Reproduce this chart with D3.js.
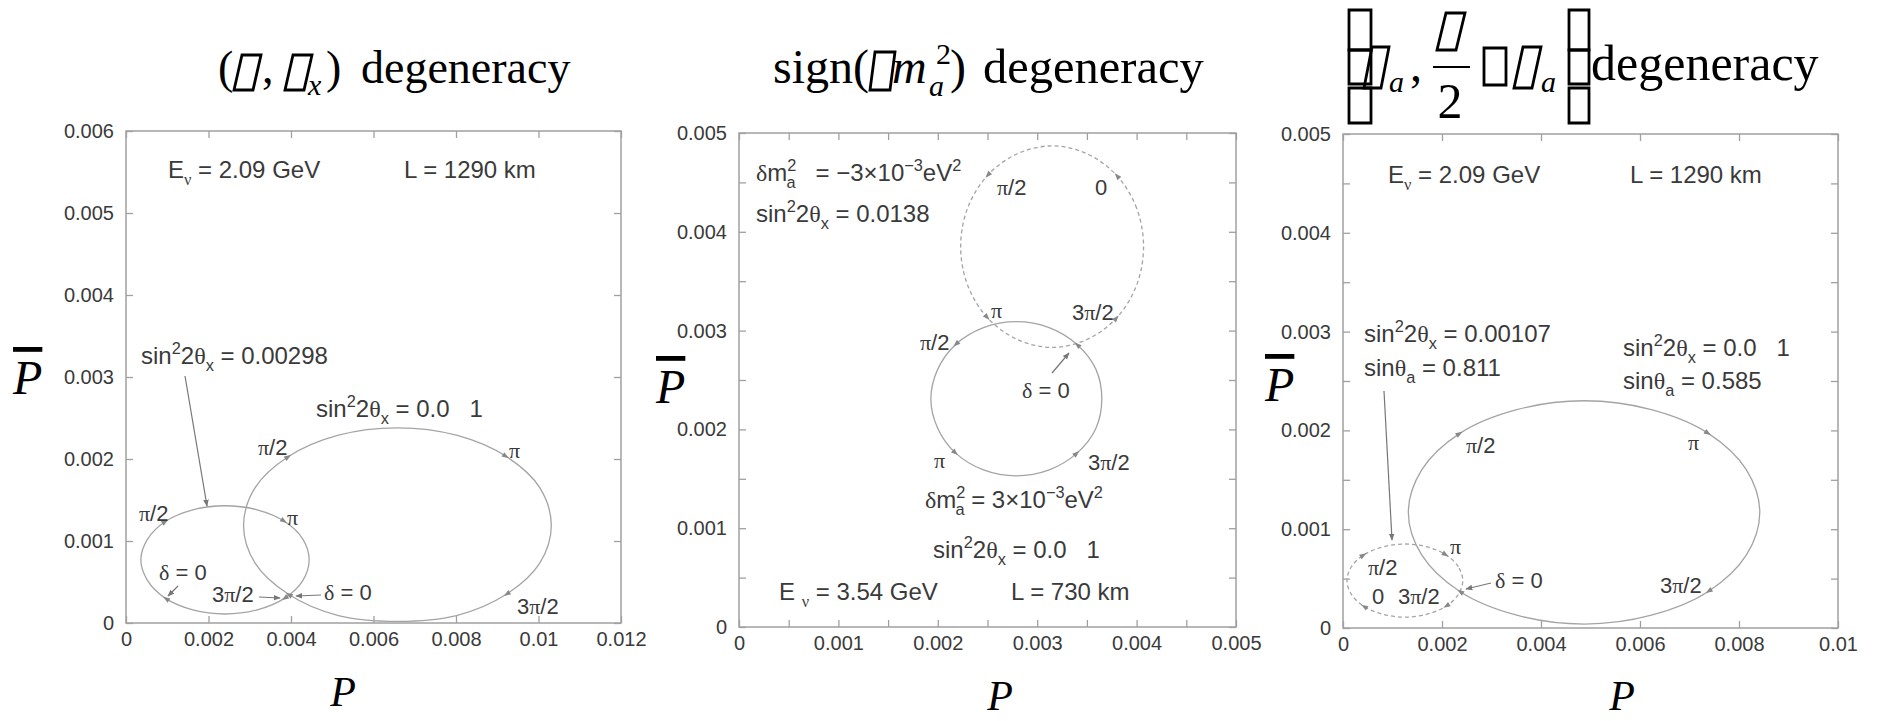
<!DOCTYPE html>
<html><head><meta charset="utf-8">
<script src="https://cdn.jsdelivr.net/npm/d3@7"></script>
<style>body{margin:0;background:#fff} svg{display:block}</style>
</head><body>
<svg id="c" width="1877" height="721"></svg>
<script>
// ---------------- data ----------------
const p1XTicks=[0,0.002,0.004,0.006,0.008,0.01,0.012];
const p1XLabels=["0","0.002","0.004","0.006","0.008","0.01","0.012"];
const p1YTicks=[0,0.001,0.002,0.003,0.004,0.005,0.006];
const p1YLabels=["0","0.001","0.002","0.003","0.004","0.005","0.006"];

const p2XTicks=[0,0.0005,0.001,0.0015,0.002,0.0025,0.003,0.0035,0.004,0.0045,0.005];
const p2XLabels=["0","","0.001","","0.002","","0.003","","0.004","","0.005"];
const p2YTicks=[0,0.0005,0.001,0.0015,0.002,0.0025,0.003,0.0035,0.004,0.0045,0.005];
const p2YLabels=["0","","0.001","","0.002","","0.003","","0.004","","0.005"];

const p3XTicks=[0,0.002,0.004,0.006,0.008,0.01];
const p3XLabels=["0","0.002","0.004","0.006","0.008","0.01"];
const p3YTicks=[0,0.0005,0.001,0.0015,0.002,0.0025,0.003,0.0035,0.004,0.0045,0.005];
const p3YLabels=["0","","0.001","","0.002","","0.003","","0.004","","0.005"];

// ellipse outlines (P, Pbar)
const p1SmallP   =[0.00444,0.00429,0.00384,0.00318,0.00240,0.00162,0.00096,0.00052,0.00036,0.00052,0.00096,0.00162,0.00240,0.00318,0.00384,0.00429];
const p1SmallPbar=[0.00077,0.00102,0.00124,0.00138,0.00143,0.00138,0.00124,0.00102,0.00077,0.00052,0.00030,0.00016,0.00011,0.00016,0.00030,0.00052];
const p1BigP     =[0.01031,0.01003,0.00922,0.00801,0.00658,0.00515,0.00394,0.00313,0.00285,0.00313,0.00394,0.00515,0.00658,0.00801,0.00922,0.01003];
const p1BigPbar  =[0.00119,0.00165,0.00203,0.00229,0.00238,0.00229,0.00203,0.00165,0.00119,0.00073,0.00035,0.00009,0.00002,0.00009,0.00035,0.00073];

const p2NegP     =[0.00407,0.00400,0.00380,0.00350,0.00315,0.00280,0.00250,0.00230,0.00223,0.00230,0.00250,0.00280,0.00315,0.00350,0.00380,0.00400];
const p2NegPbar  =[0.00385,0.00424,0.00457,0.00479,0.00487,0.00479,0.00457,0.00424,0.00385,0.00346,0.00313,0.00291,0.00283,0.00291,0.00313,0.00346];
const p2PosP     =[0.00365,0.00359,0.00340,0.00312,0.00279,0.00246,0.00218,0.00200,0.00193,0.00200,0.00218,0.00246,0.00279,0.00312,0.00340,0.00359];
const p2PosPbar  =[0.00231,0.00261,0.00286,0.00303,0.00309,0.00303,0.00286,0.00261,0.00231,0.00201,0.00176,0.00159,0.00153,0.00159,0.00176,0.00201];

const p3BigP     =[0.00842,0.00815,0.00738,0.00623,0.00487,0.00351,0.00236,0.00159,0.00132,0.00159,0.00236,0.00351,0.00487,0.00623,0.00738,0.00815];
const p3BigPbar  =[0.00117,0.00160,0.00197,0.00221,0.00230,0.00221,0.00197,0.00160,0.00117,0.00074,0.00037,0.00013,0.00004,0.00013,0.00037,0.00074];
const p3SmallP   =[0.00242,0.00233,0.00208,0.00170,0.00125,0.00080,0.00042,0.00017,0.00008,0.00017,0.00042,0.00080,0.00125,0.00170,0.00208,0.00233];
const p3SmallPbar=[0.00048,0.00062,0.00074,0.00082,0.00085,0.00082,0.00074,0.00062,0.00048,0.00034,0.00022,0.00014,0.00011,0.00014,0.00022,0.00034];

// delta = 0, pi/2, pi, 3pi/2 points on each curve
const p1SmallMarkP=[0.00096,0.00096,0.00384,0.00384], p1SmallMarkPbar=[0.00030,0.00124,0.00124,0.00030];
const p1BigMarkP  =[0.00394,0.00394,0.00922,0.00922], p1BigMarkPbar  =[0.00035,0.00203,0.00203,0.00035];
const p2NegMarkP  =[0.00380,0.00250,0.00250,0.00380], p2NegMarkPbar  =[0.00457,0.00457,0.00313,0.00313];
const p2PosMarkP  =[0.00340,0.00218,0.00218,0.00340], p2PosMarkPbar  =[0.00286,0.00286,0.00176,0.00176];
const p3BigMarkP  =[0.00236,0.00236,0.00738,0.00738], p3BigMarkPbar  =[0.00037,0.00197,0.00197,0.00037];
const p3SmallMarkP=[0.00042,0.00042,0.00208,0.00208], p3SmallMarkPbar=[0.00022,0.00074,0.00074,0.00022];

// ---------------- drawing ----------------
const svg=d3.select("#c");
const SANS="'Liberation Sans', Arial, Helvetica, sans-serif";
const SERIF="'Liberation Serif','Times New Roman',serif";
const INK="#3a3a3a", FRAME="#a0a0a0", CURVE="#a4a4a4";

svg.append("defs").append("marker").attr("id","ah").attr("viewBox","0 0 10 10")
  .attr("refX",9).attr("refY",5).attr("markerWidth",7).attr("markerHeight",7)
  .attr("markerUnits","userSpaceOnUse").attr("orient","auto")
  .append("path").attr("d","M0,1 L10,5 L0,9 Z").attr("fill","#777");

function panel(c){
  const x=d3.scaleLinear().domain(c.xd).range(c.xr);
  const y=d3.scaleLinear().domain(c.yd).range(c.yr);
  const g=svg.append("g");
  const style=s=>{s.select(".domain").remove();
    s.selectAll(".tick line").attr("stroke",FRAME).attr("stroke-width",1.3);
    s.selectAll(".tick text").attr("fill",INK).attr("font-family",SANS).attr("font-size",20);};
  g.append("g").attr("transform",`translate(0,${c.yr[0]})`)
    .call(d3.axisBottom(x).tickValues(c.xTicks).tickFormat((d,i)=>c.xLabels[i]).tickSizeInner(-7).tickSizeOuter(0).tickPadding(9)).call(style);
  g.append("g").attr("transform",`translate(0,${c.yr[1]})`)
    .call(d3.axisTop(x).tickValues(c.xTicks).tickFormat("").tickSizeInner(-7).tickSizeOuter(0)).call(style);
  g.append("g").attr("transform",`translate(${c.xr[0]},0)`)
    .call(d3.axisLeft(y).tickValues(c.yTicks).tickFormat((d,i)=>c.yLabels[i]).tickSizeInner(-7).tickSizeOuter(0).tickPadding(12)).call(style);
  g.append("g").attr("transform",`translate(${c.xr[1]},0)`)
    .call(d3.axisRight(y).tickValues(c.yTicks).tickFormat("").tickSizeInner(-7).tickSizeOuter(0)).call(style);
  g.append("rect").attr("x",c.xr[0]).attr("y",c.yr[1]).attr("width",c.xr[1]-c.xr[0]).attr("height",c.yr[0]-c.yr[1])
    .attr("fill","none").attr("stroke",FRAME).attr("stroke-width",1.5);
  const line=d3.line().x(d=>x(d[0])).y(d=>y(d[1])).curve(d3.curveCatmullRomClosed.alpha(0.5));
  c.curves.forEach(cv=>{
    const pts=cv.p.map((v,i)=>[v,cv.pb[i]]);
    g.append("path").attr("d",line(pts)).attr("fill","none").attr("stroke",CURVE)
      .attr("stroke-width",1.3).attr("stroke-dasharray",cv.dash?"4,3":null);
    const mk=cv.mp.map((v,i)=>[x(v),y(cv.mpb[i])]);
    mk.forEach((m,i)=>{
      const nx=mk[(i+1)%4], pv=mk[(i+3)%4];
      const a=Math.atan2(nx[1]-pv[1],nx[0]-pv[0])*180/Math.PI;
      g.append("path").attr("d","M3,0 L-4,-2.6 L-4,2.6 Z").attr("fill","#888")
        .attr("transform",`translate(${m[0]},${m[1]}) rotate(${a})`);
    });
  });
  return {g,x,y};
}

// rich text: segments {t, sup, sub, it, dx}
function rich(x,y,segs,fs,ff){
  const t=svg.append("text").attr("x",x).attr("y",y).attr("font-family",ff||SANS)
    .attr("font-size",fs).attr("fill",INK);
  let cur=0;
  segs.forEach(s=>{
    if(typeof s==="string") s={t:s};
    const off=s.sup?-0.42*fs:s.sub?0.28*fs:0;
    const ts=t.append("tspan").attr("dy",off-cur);
    if(s.dx) ts.attr("dx",s.dx);
    if(s.sup||s.sub) ts.attr("font-size",fs*0.68);
    if(s.it) ts.attr("font-style","italic");
    s.t.split(/([πδθν])/).filter(p=>p).forEach(p=>{
      const q=ts.append("tspan").text(p);
      if(/[πδθν]/.test(p)) q.attr("font-family",SERIF);
    });
    cur=off;
  });
  return t;
}
function arrow(x1,y1,x2,y2){
  svg.append("line").attr("x1",x1).attr("y1",y1).attr("x2",x2).attr("y2",y2)
    .attr("stroke","#777").attr("stroke-width",1.2).attr("marker-end","url(#ah)");
}
function plain(x,y,s,fs,ff,opt){
  const t=svg.append("text").attr("x",x).attr("y",y).attr("font-family",ff).attr("font-size",fs).attr("fill",(opt&&opt.fill)||"#000").text(s);
  if(opt){ if(opt.it) t.attr("font-style","italic"); if(opt.anchor) t.attr("text-anchor",opt.anchor);
    if(opt.deco) t.attr("text-decoration",opt.deco);}
  return t;
}
// title built from positioned pieces in one text element
function title(pieces){
  const t=svg.append("text").attr("font-family",SERIF).attr("fill","#000");
  pieces.forEach(p=>{
    const s=t.append("tspan").attr("x",p.x).attr("y",p.y).attr("font-size",p.fs).text(p.t);
    if(p.it) s.attr("font-style","italic");
    if(p.anchor) s.attr("text-anchor",p.anchor);
  });
}
// empty glyph boxes (the original's missing symbol glyphs)
function box(xl,yt,w,h,sl){
  const yb=yt+h;
  svg.append("path").attr("d",`M${xl},${yb} L${xl+w},${yb} L${xl+w+sl},${yt} L${xl+sl},${yt} Z`)
    .attr("fill","none").attr("stroke","#000").attr("stroke-width",2.8);
}

panel({xd:[0,0.012],yd:[0,0.006],xr:[126,621],yr:[623,131],xTicks:p1XTicks,xLabels:p1XLabels,yTicks:p1YTicks,yLabels:p1YLabels,
  curves:[{p:p1SmallP,pb:p1SmallPbar,mp:p1SmallMarkP,mpb:p1SmallMarkPbar},{p:p1BigP,pb:p1BigPbar,mp:p1BigMarkP,mpb:p1BigMarkPbar}]});
panel({xd:[0,0.005],yd:[0,0.005],xr:[739,1236],yr:[627,133],xTicks:p2XTicks,xLabels:p2XLabels,yTicks:p2YTicks,yLabels:p2YLabels,
  curves:[{p:p2NegP,pb:p2NegPbar,mp:p2NegMarkP,mpb:p2NegMarkPbar,dash:true},{p:p2PosP,pb:p2PosPbar,mp:p2PosMarkP,mpb:p2PosMarkPbar}]});
panel({xd:[0,0.01],yd:[0,0.005],xr:[1343,1838],yr:[628,134],xTicks:p3XTicks,xLabels:p3XLabels,yTicks:p3YTicks,yLabels:p3YLabels,
  curves:[{p:p3SmallP,pb:p3SmallPbar,mp:p3SmallMarkP,mpb:p3SmallMarkPbar,dash:true},{p:p3BigP,pb:p3BigPbar,mp:p3BigMarkP,mpb:p3BigMarkPbar}]});

// ----- panel 1 annotations -----
const F=24, S=22;
rich(168,178,["E",{t:"ν",sub:true}," = 2.09 GeV"],F);
rich(404,178,["L = 1290 km"],F);
rich(141,364,["sin",{t:"2",sup:true},"2θ",{t:"x",sub:true}," = 0.00298"],F);
arrow(185,376,207,506);
rich(316,417,["sin",{t:"2",sup:true},"2θ",{t:"x",sub:true},"\u00a0= 0.0\u00a0\u00a0 1"],F);
rich(258,455,["π/2"],S); rich(509,458,["π"],S);
rich(139,521,["π/2"],S); rich(287,525,["π"],S);
rich(159,580,["δ = 0"],S); arrow(178,586,168,596);
rich(212,602,["3π/2"],S); arrow(259,597,280,598);
rich(324,600,["δ = 0"],S); arrow(321,595,296,596);
rich(517,614,["3π/2"],S);

// ----- panel 2 annotations -----
rich(756,181,["δm",{t:"2",sup:true},{t:"a",sub:true,dx:-10},"\u00a0\u00a0 = −3×10",{t:"−3",sup:true},"eV",{t:"2",sup:true}],F);
rich(756,222,["sin",{t:"2",sup:true},"2θ",{t:"x",sub:true}," = 0.0138"],F);
rich(997,195,["π/2"],S); rich(1095,195,["0"],S);
rich(991,318,["π"],S); rich(1072,320,["3π/2"],S);
rich(920,350,["π/2"],S);
rich(1022,398,["δ = 0"],S); arrow(1052,373,1069,353);
rich(934,468,["π"],S); rich(1088,470,["3π/2"],S);
rich(925,508,["δm",{t:"2",sup:true},{t:"a",sub:true,dx:-10}," = 3×10",{t:"−3",sup:true},"eV",{t:"2",sup:true}],F);
rich(933,558,["sin",{t:"2",sup:true},"2θ",{t:"x",sub:true},"\u00a0= 0.0\u00a0\u00a0 1"],F);
rich(779,600,["E ",{t:"ν",sub:true}," = 3.54 GeV"],F);
rich(1011,600,["L = 730 km"],F);

// ----- panel 3 annotations -----
rich(1388,183,["E",{t:"ν",sub:true}," = 2.09 GeV"],F);
rich(1630,183,["L = 1290 km"],F);
rich(1364,342,["sin",{t:"2",sup:true},"2θ",{t:"x",sub:true}," = 0.00107"],F);
rich(1364,376,["sinθ",{t:"a",sub:true}," = 0.811"],F);
arrow(1384,391,1392,540);
rich(1623,356,["sin",{t:"2",sup:true},"2θ",{t:"x",sub:true},"\u00a0= 0.0\u00a0\u00a0 1"],F);
rich(1623,389,["sinθ",{t:"a",sub:true}," = 0.585"],F);
rich(1466,453,["π/2"],S); rich(1688,450,["π"],S);
rich(1660,593,["3π/2"],S);
rich(1450,554,["π"],S);
rich(1368,575,["π/2"],S);
rich(1372,604,["0"],S); rich(1398,604,["3π/2"],S);
rich(1495,588,["δ = 0"],S); arrow(1491,583,1466,589);

// ----- axis titles -----
plain(13,394,"P",48,SERIF,{it:true,deco:"overline"});
plain(656,403,"P",48,SERIF,{it:true,deco:"overline"});
plain(1265,401,"P",48,SERIF,{it:true,deco:"overline"});
plain(343,706,"P",42,SERIF,{it:true,anchor:"middle"});
plain(1000,710,"P",42,SERIF,{it:true,anchor:"middle"});
plain(1622,710,"P",42,SERIF,{it:true,anchor:"middle"});

// ----- panel titles -----
title([{t:"(",x:218,y:83,fs:46},{t:",",x:262,y:83,fs:46},{t:"x",x:308,y:95,fs:30,it:true},
       {t:")",x:326,y:83,fs:46},{t:"degeneracy",x:361,y:83,fs:46}]);
box(234,55,19,35,8); box(285,55,19,35,8);

title([{t:"sign(",x:773,y:83,fs:48},{t:"m",x:892,y:83,fs:48,it:true},{t:"2",x:936,y:64,fs:30},
       {t:"a",x:929,y:96,fs:30,it:true},{t:")",x:950,y:83,fs:48},{t:"degeneracy",x:983,y:83,fs:48.5}]);
box(870,52,20,38,5);

title([{t:"a",x:1389,y:92,fs:30,it:true},{t:",",x:1410,y:81,fs:48},{t:"2",x:1450,y:118,fs:50,anchor:"middle"},
       {t:"a",x:1541,y:92,fs:30,it:true},{t:"degeneracy",x:1591,y:80,fs:50}]);
box(1349,10,22,40,0); box(1349,50,22,34,0); box(1349,88,22,35,0);
box(1364,47,17,41,8);
box(1437,13,19,37,9);
svg.append("line").attr("x1",1433).attr("x2",1470).attr("y1",67).attr("y2",67).attr("stroke","#000").attr("stroke-width",2.2);
box(1484,48,22,37,0);
box(1514,47,18,41,9);
box(1569,10,20,40,0); box(1569,50,20,34,0); box(1569,88,20,35,0);
</script>
</body></html>
